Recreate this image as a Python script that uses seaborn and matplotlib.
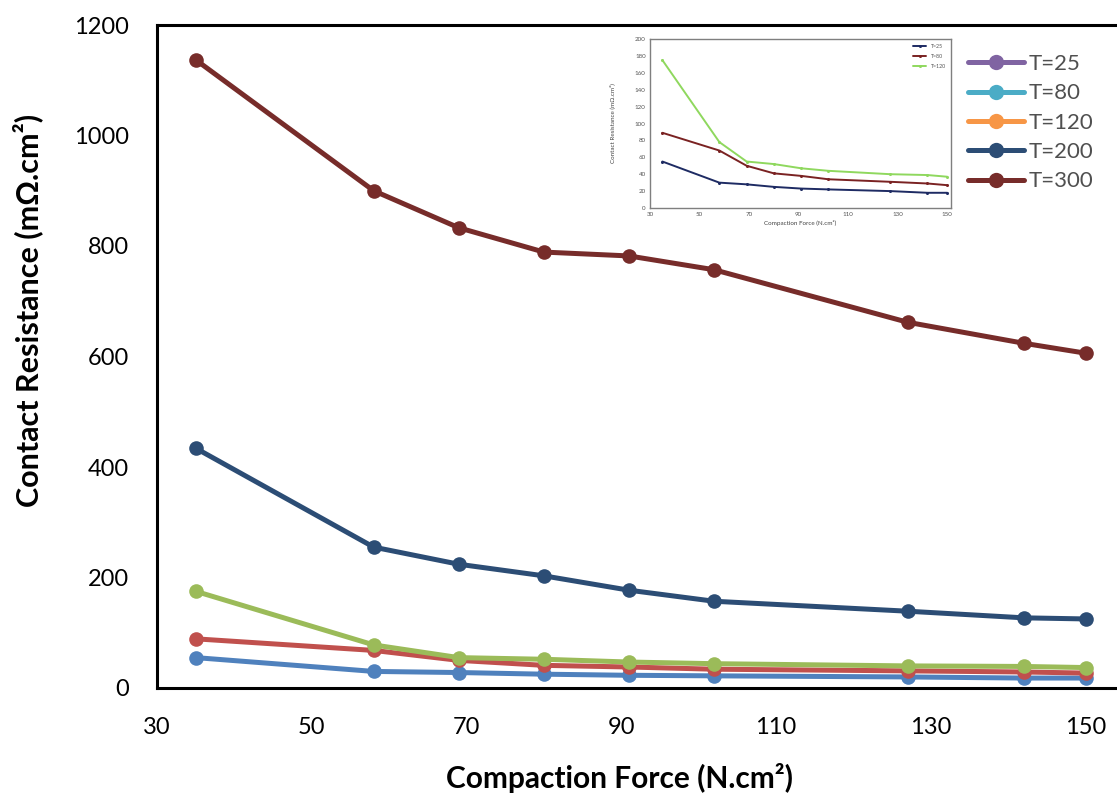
import matplotlib
matplotlib.use("Agg")
import matplotlib.pyplot as plt
from matplotlib.lines import Line2D
from matplotlib import font_manager
import seaborn as sns
import pandas as pd

# ---- data ----
force = [35, 58, 69, 80, 91, 102, 127, 142, 150]
t25 = [55, 30, 28, 25, 23, 22, 20, 18, 18]
t80 = [89, 68, 50, 41, 38, 34, 31, 29, 27]
t120 = [175, 78, 55, 52, 47, 44, 40, 39, 37]
t200 = [434, 255, 224, 203, 177, 157, 139, 127, 125]
t300 = [1137, 900, 833, 789, 782, 757, 662, 624, 606]
labels = ["T=25", "T=80", "T=120", "T=200", "T=300"]
x_ticks = [30, 50, 70, 90, 110, 130, 150]
y_ticks = [0, 200, 400, 600, 800, 1000, 1200]
inset_x_ticks = [30, 50, 70, 90, 110, 130, 150]
inset_y_ticks = list(range(0, 201, 20))

line_colors = ["#4F81BD", "#C0504D", "#9BBB59", "#2C4D75", "#772C2A"]
legend_colors = ["#8064A2", "#4BACC6", "#F79646", "#2C4D75", "#772C2A"]
inset_colors = ["#1E2B63", "#7A2222", "#8FD85E"]

sns.set_theme(style="white")
names = {f.name for f in font_manager.fontManager.ttflist}
base = "Lato" if "Lato" in names else "DejaVu Sans"
plt.rcParams["font.family"] = [base, "DejaVu Sans"]

W, H = 1117, 800
fig = plt.figure(figsize=(W / 100, H / 100), dpi=100)
ax_w = (1117 - 157) / W + 0.01
ax = fig.add_axes([157 / W, 1 - 688 / H, ax_w, (688 - 25) / H])

series = [t25, t80, t120, t200, t300]
for lab, vals, c in zip(labels, series, line_colors):
    df = pd.DataFrame({"force": force, "cr": vals})
    sns.lineplot(data=df, x="force", y="cr", ax=ax, color=c, lw=3.6,
                 marker="o", markersize=10.5, markeredgewidth=0, sort=False,
                 legend=False)

ax.set_xlim(30, 155.5)
ax.set_ylim(0, 1200)
ax.set_xticks(x_ticks)
ax.set_yticks(y_ticks)
ax.set_xticklabels([str(v) for v in x_ticks], fontsize=17, color="#000000")
ax.set_yticklabels([str(v) for v in y_ticks], fontsize=17, color="#000000")
ax.tick_params(axis="x", length=0, pad=21)
ax.tick_params(axis="y", length=0, pad=20)
for s in ["left", "bottom", "top"]:
    ax.spines[s].set_color("black")
    ax.spines[s].set_linewidth(2.2)
ax.spines["right"].set_visible(False)
ax.set_xlabel("Compaction Force (N.cm²)", fontsize=21.5, fontweight="bold", color="black")
ax.set_ylabel("Contact Resistance (mΩ.cm²)", fontsize=22, fontweight="bold", color="black")
fw = ax_w * W
ax.xaxis.set_label_coords((620 - 157) / fw, -(778 - 688) / 663, transform=ax.transAxes)
ax.yaxis.set_label_coords(-(157 - 28) / fw, (688 - 310) / 663, transform=ax.transAxes)
ax.xaxis.label.set_va("center")
ax.yaxis.label.set_va("center")

handles = [Line2D([0], [0], color=c, lw=3.6, marker="o", markersize=11, markeredgewidth=0)
           for c in legend_colors]
fig.legend(handles, labels, loc="upper left", bbox_to_anchor=(948 / W, 1 - 34 / H),
           frameon=False, fontsize=16, handlelength=2.5, handletextpad=0.25,
           labelspacing=0.42, labelcolor="#505050")

# ---- inset (embedded small chart) ----
iax = fig.add_axes([650 / W, 1 - 208 / H, 301 / W, 169 / H])
for lab, vals, c in zip(labels[:3], series[:3], inset_colors):
    df = pd.DataFrame({"force": force, "cr": vals})
    sns.lineplot(data=df, x="force", y="cr", ax=iax, color=c, lw=1.4,
                 marker="o", markersize=2.2, markeredgewidth=0, sort=False,
                 label=lab)
iax.set_xlim(30, 151.5)
iax.set_ylim(0, 200)
iax.set_xticks(inset_x_ticks)
iax.set_yticks(inset_y_ticks)
iax.tick_params(axis="both", labelsize=4.5, length=0, pad=3, colors="#555555")
for s in iax.spines.values():
    s.set_color("#7f7f7f")
    s.set_linewidth(1.0)
iax.set_xlabel("Compaction Force (N.cm²)", fontsize=4.5, color="#444444", labelpad=2)
iax.set_ylabel("Contact Resistance (mΩ.cm²)", fontsize=4.5, color="#444444", labelpad=14)
iax.legend(loc="upper right", fontsize=3.8, frameon=False, handlelength=2.5,
           labelcolor="#555555", borderaxespad=0.6, labelspacing=0.9)

fig.savefig("out.png", dpi=100)
